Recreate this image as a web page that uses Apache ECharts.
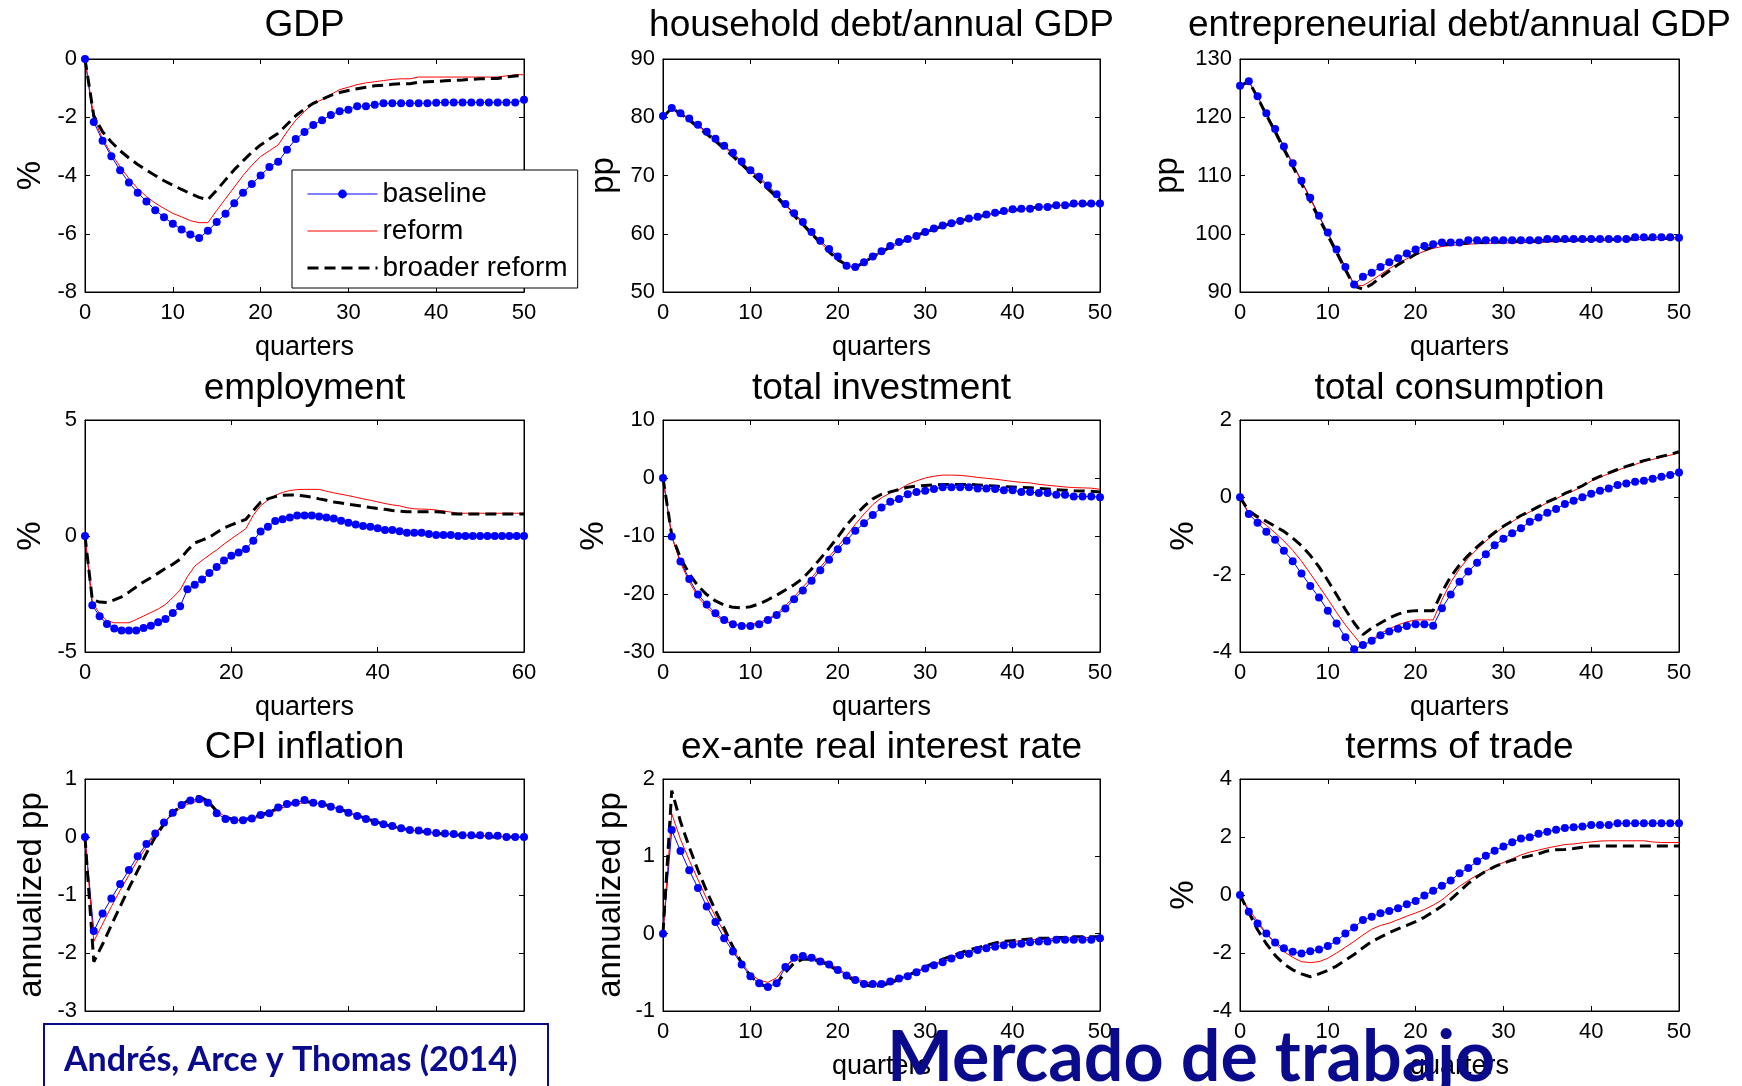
<!DOCTYPE html>
<html>
<head>
<meta charset="utf-8">
<script src="https://cdn.jsdelivr.net/npm/echarts@6/dist/echarts.min.js"></script>
<style>
html,body{margin:0;padding:0;background:#fff;}
#chart{width:1742px;height:1086px;}
</style>
</head>
<body>
<div id="chart"></div>
<script>
// ---------------- DATA ----------------
const seriesNames = ['baseline', 'reform', 'broader reform'];
const panelTitles = ['GDP', 'household debt/annual GDP', 'entrepreneurial debt/annual GDP',
  'employment', 'total investment', 'total consumption',
  'CPI inflation', 'ex-ante real interest rate', 'terms of trade'];
const yAxisNames = ['%', 'pp', 'pp', '%', '%', '%', 'annualized pp', 'annualized pp', '%'];
const xAxisName = 'quarters';

const gdpBase = [0,-2.16,-2.81,-3.34,-3.82,-4.24,-4.59,-4.89,-5.19,-5.43,-5.66,-5.85,-6.03,-6.15,-5.90,-5.60,-5.31,-4.95,-4.59,-4.29,-4.00,-3.71,-3.53,-3.12,-2.75,-2.51,-2.27,-2.10,-1.92,-1.79,-1.74,-1.62,-1.62,-1.57,-1.52,-1.52,-1.52,-1.52,-1.52,-1.52,-1.50,-1.49,-1.49,-1.49,-1.49,-1.49,-1.49,-1.49,-1.49,-1.49,-1.40];
const gdpReform = [0,-2.0,-2.75,-3.25,-3.7,-4.1,-4.45,-4.72,-4.95,-5.13,-5.3,-5.42,-5.55,-5.62,-5.62,-5.2,-4.8,-4.4,-4.0,-3.65,-3.35,-3.15,-2.95,-2.5,-2.1,-1.8,-1.52,-1.4,-1.22,-1.05,-0.97,-0.88,-0.82,-0.78,-0.74,-0.7,-0.68,-0.68,-0.62,-0.62,-0.62,-0.62,-0.62,-0.62,-0.62,-0.62,-0.62,-0.62,-0.58,-0.54,-0.54];
const gdpBroad = [0,-1.95,-2.5,-2.85,-3.15,-3.4,-3.62,-3.82,-4.0,-4.18,-4.33,-4.48,-4.62,-4.75,-4.83,-4.5,-4.15,-3.8,-3.5,-3.2,-2.95,-2.75,-2.55,-2.25,-1.95,-1.72,-1.52,-1.38,-1.25,-1.15,-1.08,-1.02,-0.97,-0.92,-0.9,-0.87,-0.85,-0.85,-0.8,-0.78,-0.77,-0.75,-0.73,-0.72,-0.7,-0.68,-0.67,-0.67,-0.62,-0.58,-0.57];

const hhBase = [80.2,81.6,80.7,79.8,78.7,77.5,76.3,75.1,73.9,72.4,70.9,69.8,68.3,66.8,65.1,63.5,62.0,60.3,58.8,57.4,56.1,54.5,54.3,55.1,56.1,57.0,57.9,58.6,59.1,59.6,60.3,60.9,61.4,61.8,62.2,62.6,62.9,63.3,63.6,63.9,64.2,64.3,64.3,64.6,64.6,64.9,64.9,65.2,65.2,65.2,65.2];
const hhReform = [80,81.5,80.6,79.6,78.5,77.3,76.1,74.9,73.6,72.2,70.8,69.5,68.0,66.5,64.9,63.3,61.7,60.1,58.5,57.0,55.5,54.6,54.0,55.0,55.9,56.8,57.6,58.3,59.0,59.6,60.2,60.7,61.2,61.7,62.1,62.5,62.8,63.1,63.4,63.7,64.0,64.2,64.4,64.6,64.7,64.8,64.9,65.0,65.1,65.1,65.1];
const hhBroad = [80,81.6,80.6,79.5,78.3,77.1,75.9,74.6,73.3,71.9,70.5,69.1,67.7,66.3,64.7,63.1,61.6,60.0,58.4,56.9,55.5,54.7,54.2,55.1,56.0,56.9,57.7,58.4,59.1,59.7,60.3,60.8,61.3,61.8,62.2,62.6,62.9,63.2,63.5,63.8,64.0,64.2,64.4,64.6,64.7,64.8,64.9,65.0,65.1,65.1,65.2];

const enBase = [125.4,126.2,123.6,120.7,118.0,115.0,112.1,109.1,106.2,103.1,100.2,97.3,94.3,91.3,92.6,93.3,94.3,95.1,95.8,96.6,97.3,97.9,98.2,98.5,98.5,98.5,98.9,98.9,98.9,98.9,98.9,98.9,98.9,98.9,98.9,99.1,99.1,99.1,99.1,99.1,99.1,99.1,99.1,99.1,99.1,99.4,99.4,99.4,99.4,99.4,99.3];
const enReform = [125.4,126.1,123.5,120.6,117.8,114.9,111.9,109.0,106.0,103.0,100.0,97.1,94.1,91.2,91.1,92.0,93.0,94.0,94.9,95.7,96.4,97.0,97.5,97.8,98.0,98.1,98.2,98.3,98.3,98.4,98.4,98.4,98.5,98.5,98.5,98.6,98.6,98.7,98.7,98.8,98.8,98.8,98.9,98.9,98.9,99.0,99.0,99.0,99.1,99.1,99.1];
const enBroad = [125.3,126.2,123.4,120.4,117.5,114.5,111.6,108.6,105.6,102.6,99.7,96.8,93.8,91.0,90.5,91.3,92.5,93.6,94.7,95.6,96.5,97.2,97.8,98.1,98.2,98.3,98.4,98.5,98.5,98.6,98.6,98.7,98.7,98.7,98.8,98.8,98.9,98.9,98.9,99.0,99.0,99.0,99.0,99.1,99.1,99.1,99.1,99.2,99.2,99.2,99.2];

const emBase = [0,-2.99,-3.46,-3.79,-3.99,-4.07,-4.07,-4.07,-3.97,-3.87,-3.72,-3.58,-3.32,-3.03,-2.3,-2.1,-1.88,-1.6,-1.34,-1.06,-0.85,-0.71,-0.56,-0.2,0.19,0.4,0.65,0.72,0.80,0.88,0.88,0.88,0.84,0.80,0.75,0.66,0.57,0.50,0.43,0.40,0.33,0.26,0.26,0.2,0.14,0.14,0.14,0.09,0.04,0.04,0.04,0,0,0,0,0,0,0,0,0,0];
const emReform = [0,-2.85,-3.35,-3.65,-3.74,-3.74,-3.74,-3.6,-3.45,-3.3,-3.15,-2.95,-2.65,-2.33,-1.75,-1.3,-1.05,-0.82,-0.6,-0.35,-0.12,0.1,0.32,0.9,1.3,1.55,1.75,1.88,1.96,2.0,2.01,2.01,2.01,1.93,1.86,1.8,1.74,1.67,1.6,1.54,1.47,1.4,1.34,1.3,1.22,1.17,1.16,1.15,1.12,1.08,1.03,0.98,0.98,0.98,0.98,0.98,0.98,0.98,0.98,0.98,0.98];
const emBroad = [0,-2.75,-2.85,-2.87,-2.75,-2.62,-2.42,-2.2,-1.98,-1.8,-1.6,-1.4,-1.22,-1.0,-0.62,-0.3,-0.18,-0.05,0.15,0.35,0.48,0.6,0.72,1.1,1.45,1.6,1.7,1.76,1.77,1.76,1.72,1.67,1.6,1.54,1.47,1.42,1.37,1.33,1.28,1.23,1.19,1.15,1.1,1.07,1.05,1.05,1.05,1.05,1.05,1.02,0.96,0.95,0.95,0.95,0.95,0.95,0.95,0.95,0.95,0.95,0.95];

const invBase = [0,-10.1,-14.4,-17.4,-20.1,-21.8,-23.3,-24.5,-25.2,-25.5,-25.5,-25.2,-24.5,-23.6,-22.5,-20.9,-19.4,-17.7,-15.9,-14.1,-12.3,-10.8,-9.1,-7.8,-6.4,-5.1,-4.1,-3.6,-2.8,-2.4,-2.2,-1.9,-1.6,-1.6,-1.6,-1.6,-1.8,-1.8,-1.9,-2.1,-2.1,-2.4,-2.4,-2.6,-2.6,-2.9,-2.9,-3.2,-3.2,-3.2,-3.3];
const invReform = [0,-10.0,-14.6,-17.9,-20.5,-22.3,-23.7,-24.7,-25.2,-25.4,-25.3,-24.9,-24.3,-23.4,-22.0,-20.5,-18.8,-17.2,-15.4,-13.6,-11.8,-10.0,-8.0,-6.2,-4.6,-3.4,-2.6,-2.0,-1.1,-0.5,0.0,0.3,0.5,0.5,0.45,0.3,0.1,-0.05,-0.2,-0.4,-0.6,-0.75,-0.85,-1.1,-1.25,-1.4,-1.55,-1.65,-1.7,-1.75,-1.95];
const invBroad = [0,-9.8,-13.8,-16.5,-18.6,-20.1,-21.2,-21.9,-22.3,-22.4,-22.2,-21.7,-21.0,-20.2,-19.3,-18.4,-17.3,-15.7,-13.9,-12.1,-10.2,-8.1,-6.4,-4.9,-3.6,-2.8,-2.4,-2.0,-1.6,-1.4,-1.3,-1.2,-1.1,-1.1,-1.1,-1.1,-1.2,-1.3,-1.4,-1.5,-1.55,-1.6,-1.7,-1.8,-1.9,-2.0,-2.1,-2.2,-2.25,-2.3,-2.4];

const coBase = [0,-0.43,-0.66,-0.89,-1.10,-1.38,-1.65,-1.97,-2.29,-2.59,-2.93,-3.26,-3.62,-3.93,-3.82,-3.71,-3.57,-3.47,-3.40,-3.33,-3.28,-3.28,-3.32,-2.87,-2.51,-2.18,-1.92,-1.69,-1.47,-1.24,-1.07,-0.93,-0.80,-0.63,-0.52,-0.40,-0.30,-0.17,-0.09,0.0,0.09,0.17,0.23,0.32,0.36,0.40,0.43,0.48,0.53,0.58,0.64];
const coReform = [0,-0.4,-0.55,-0.72,-0.92,-1.13,-1.37,-1.65,-1.97,-2.3,-2.63,-2.98,-3.3,-3.58,-3.86,-3.68,-3.52,-3.4,-3.3,-3.22,-3.17,-3.17,-3.17,-2.65,-2.2,-1.85,-1.57,-1.34,-1.13,-0.94,-0.77,-0.63,-0.49,-0.38,-0.26,-0.14,-0.04,0.08,0.17,0.28,0.42,0.52,0.61,0.7,0.78,0.85,0.93,0.98,1.04,1.09,1.15];
const coBroad = [0,-0.35,-0.5,-0.62,-0.75,-0.88,-1.05,-1.25,-1.5,-1.8,-2.15,-2.52,-2.9,-3.25,-3.55,-3.38,-3.25,-3.12,-3.02,-2.95,-2.93,-2.93,-2.93,-2.45,-2.05,-1.75,-1.5,-1.28,-1.09,-0.91,-0.75,-0.61,-0.47,-0.36,-0.24,-0.12,-0.02,0.1,0.19,0.3,0.44,0.54,0.63,0.72,0.8,0.87,0.95,1.0,1.06,1.11,1.18];

const cpiBase = [0,-1.62,-1.32,-1.06,-0.81,-0.57,-0.33,-0.12,0.06,0.25,0.42,0.55,0.63,0.65,0.59,0.41,0.31,0.29,0.29,0.32,0.38,0.41,0.51,0.57,0.59,0.64,0.59,0.57,0.52,0.48,0.42,0.36,0.31,0.26,0.22,0.19,0.15,0.12,0.11,0.09,0.07,0.06,0.05,0.03,0.03,0.03,0.02,0.02,0,0,0];
const cpiReform = [0,-1.8,-1.5,-1.2,-0.92,-0.66,-0.4,-0.17,0.05,0.24,0.4,0.51,0.59,0.62,0.59,0.45,0.35,0.29,0.28,0.3,0.35,0.4,0.47,0.53,0.57,0.59,0.59,0.57,0.53,0.48,0.43,0.37,0.32,0.27,0.22,0.18,0.15,0.12,0.1,0.08,0.06,0.05,0.04,0.03,0.02,0.02,0.01,0.01,0.0,0.0,0.0];
const cpiBroad = [0,-2.15,-1.85,-1.52,-1.2,-0.88,-0.58,-0.28,0.0,0.22,0.42,0.55,0.66,0.7,0.62,0.45,0.34,0.3,0.3,0.33,0.38,0.43,0.5,0.56,0.6,0.61,0.6,0.57,0.53,0.48,0.43,0.37,0.32,0.27,0.22,0.18,0.15,0.12,0.1,0.08,0.06,0.05,0.04,0.03,0.02,0.01,0.0,0.0,0.0,0.0,0.0];

const rrBase = [0,1.34,1.07,0.82,0.59,0.35,0.15,-0.06,-0.23,-0.40,-0.55,-0.64,-0.69,-0.64,-0.43,-0.31,-0.29,-0.31,-0.36,-0.40,-0.47,-0.54,-0.60,-0.65,-0.65,-0.65,-0.62,-0.58,-0.55,-0.50,-0.45,-0.41,-0.37,-0.32,-0.28,-0.26,-0.21,-0.19,-0.17,-0.15,-0.14,-0.13,-0.11,-0.10,-0.10,-0.08,-0.08,-0.08,-0.08,-0.08,-0.06];
const rrReform = [0,1.55,1.22,0.95,0.7,0.45,0.22,0.02,-0.2,-0.38,-0.52,-0.6,-0.63,-0.57,-0.42,-0.34,-0.3,-0.3,-0.33,-0.38,-0.45,-0.52,-0.58,-0.62,-0.64,-0.64,-0.61,-0.57,-0.53,-0.48,-0.44,-0.39,-0.35,-0.3,-0.26,-0.23,-0.19,-0.16,-0.13,-0.11,-0.1,-0.09,-0.08,-0.07,-0.07,-0.06,-0.06,-0.05,-0.05,-0.05,-0.05];
const rrBroad = [0,1.85,1.45,1.12,0.82,0.55,0.3,0.07,-0.17,-0.38,-0.55,-0.65,-0.69,-0.65,-0.5,-0.38,-0.33,-0.33,-0.36,-0.41,-0.48,-0.55,-0.61,-0.66,-0.68,-0.67,-0.64,-0.59,-0.54,-0.49,-0.43,-0.38,-0.33,-0.29,-0.25,-0.21,-0.18,-0.15,-0.12,-0.1,-0.09,-0.08,-0.07,-0.06,-0.06,-0.05,-0.05,-0.04,-0.04,-0.04,-0.04];

const totBase = [0,-0.58,-0.98,-1.33,-1.64,-1.84,-1.96,-2.02,-1.94,-1.88,-1.76,-1.58,-1.33,-1.12,-0.86,-0.75,-0.63,-0.55,-0.46,-0.32,-0.21,-0.02,0.15,0.32,0.50,0.75,0.93,1.16,1.35,1.53,1.67,1.82,1.95,1.99,2.11,2.18,2.25,2.31,2.34,2.36,2.41,2.41,2.41,2.47,2.47,2.47,2.47,2.47,2.47,2.47,2.47];
const totReform = [0,-0.5,-0.9,-1.32,-1.68,-1.95,-2.15,-2.3,-2.33,-2.3,-2.18,-2.0,-1.8,-1.6,-1.38,-1.18,-1.05,-0.97,-0.85,-0.73,-0.62,-0.5,-0.35,-0.17,0.08,0.3,0.5,0.68,0.83,0.98,1.12,1.25,1.38,1.48,1.55,1.62,1.68,1.74,1.76,1.8,1.83,1.86,1.87,1.87,1.87,1.87,1.87,1.83,1.81,1.81,1.81];
const totBroad = [0,-0.6,-1.2,-1.68,-2.08,-2.38,-2.58,-2.72,-2.82,-2.72,-2.6,-2.45,-2.25,-2.05,-1.82,-1.61,-1.45,-1.3,-1.17,-1.05,-0.92,-0.77,-0.58,-0.38,-0.15,0.12,0.4,0.63,0.82,0.98,1.1,1.2,1.28,1.35,1.42,1.52,1.56,1.57,1.6,1.65,1.69,1.69,1.69,1.69,1.69,1.69,1.69,1.69,1.69,1.69,1.69];

// axis ranges / tick steps per panel
const yRanges = [[-8,0,2],[50,90,10],[90,130,10],[-5,5,5],[-30,10,10],[-4,2,2],[-3,1,1],[-1,2,1],[-4,4,2]];
const xRanges = [[0,50,10],[0,50,10],[0,50,10],[0,60,20],[0,50,10],[0,50,10],[0,50,10],[0,50,10],[0,50,10]];

const panelSeries = [
  [gdpBase, gdpReform, gdpBroad], [hhBase, hhReform, hhBroad], [enBase, enReform, enBroad],
  [emBase, emReform, emBroad], [invBase, invReform, invBroad], [coBase, coReform, coBroad],
  [cpiBase, cpiReform, cpiBroad], [rrBase, rrReform, rrBroad], [totBase, totReform, totBroad]
];

const citationText = 'Andrés, Arce y Thomas (2014)';
const bannerText = 'Mercado de trabajo';

// ---------------- LAYOUT ----------------
const FONT = '"Liberation Sans", Arial, sans-serif';
const NAVY = '#0a0a8c';
const colLeft = [85, 663, 1240];
const colWidth = [439, 437, 439];
const rowTop = [59, 420, 779];
const rowHeight = [233, 232, 232];
const titleTop = [7, 370, 729];
const yNameGap = [38, 43, 56, 38, 53, 40, 37, 36, 40];
const DASH = [11, 6];

const grid = [], xAxis = [], yAxis = [], title = [], series = [];
const axisCommon = {
  axisLine: { onZero: false, lineStyle: { color: '#000', width: 1 } },
  axisTick: { inside: true, length: 5, lineStyle: { color: '#000', width: 1 } },
  splitLine: { show: false }
};

for (let i = 0; i < 9; i++) {
  const r = Math.floor(i / 3), c = i % 3;
  grid.push({ left: colLeft[c], top: rowTop[r], width: colWidth[c], height: rowHeight[r],
    show: true, borderColor: '#000', borderWidth: 1, backgroundColor: 'transparent' });
  title.push({ text: panelTitles[i], left: colLeft[c] + colWidth[c] / 2, top: titleTop[r],
    textAlign: 'center', padding: 0,
    textStyle: { fontFamily: FONT, fontSize: 37, fontWeight: 'normal', color: '#000' } });
  const [x0, x1, xi] = xRanges[i];
  const [y0, y1, yi] = yRanges[i];
  xAxis.push(Object.assign({ gridIndex: i, type: 'value', min: x0, max: x1, interval: xi, position: 'bottom',
    axisLabel: { color: '#000', fontSize: 22, fontFamily: FONT, margin: 10 },
    name: xAxisName, nameLocation: 'middle', nameGap: 42,
    nameTextStyle: { color: '#000', fontSize: 27, fontFamily: FONT } }, axisCommon));
  xAxis.push(Object.assign({ gridIndex: i, type: 'value', min: x0, max: x1, interval: xi, position: 'top',
    axisLabel: { show: false } }, axisCommon));
  yAxis.push(Object.assign({ gridIndex: i, type: 'value', min: y0, max: y1, interval: yi, position: 'left',
    axisLabel: { color: '#000', fontSize: 22, fontFamily: FONT, margin: 8 },
    name: yAxisNames[i], nameLocation: 'middle', nameGap: yNameGap[i],
    nameTextStyle: { color: '#000', fontSize: 33, fontFamily: FONT } }, axisCommon));
  yAxis.push(Object.assign({ gridIndex: i, type: 'value', min: y0, max: y1, interval: yi, position: 'right',
    axisLabel: { show: false } }, axisCommon));

  const [b, rf, br] = panelSeries[i];
  series.push({ name: seriesNames[0], type: 'line', xAxisIndex: 2 * i, yAxisIndex: 2 * i,
    data: b.map((v, q) => [q, v]), symbol: 'circle', symbolSize: 8, showAllSymbol: true,
    itemStyle: { color: '#0000ff' }, lineStyle: { color: '#0000ff', width: 1 }, silent: true });
  series.push({ name: seriesNames[1], type: 'line', xAxisIndex: 2 * i, yAxisIndex: 2 * i,
    data: rf.map((v, q) => [q, v]), symbol: 'none',
    itemStyle: { color: '#ff0000' }, lineStyle: { color: '#ff0000', width: 1 }, silent: true });
  series.push({ name: seriesNames[2], type: 'line', xAxisIndex: 2 * i, yAxisIndex: 2 * i,
    data: br.map((v, q) => [q, v]), symbol: 'none',
    itemStyle: { color: '#000' }, lineStyle: { color: '#000', width: 3, type: DASH }, silent: true });
}

const chart = echarts.init(document.getElementById('chart'), null, { renderer: 'canvas' });
chart.setOption({
  backgroundColor: '#fff',
  animation: false,
  title, grid, xAxis, yAxis, series,
  legend: {
    orient: 'vertical', left: 292, top: 170, padding: [10, 10, 6, 14], itemGap: 9,
    itemWidth: 70, itemHeight: 11, selectedMode: false,
    backgroundColor: '#fff', borderColor: '#000', borderWidth: 1, z: 10,
    textStyle: { fontSize: 28, color: '#000', fontFamily: FONT, lineHeight: 28 },
    data: [
      { name: seriesNames[0], lineStyle: { width: 1, color: '#0000ff' } },
      { name: seriesNames[1], itemStyle: { opacity: 0 }, lineStyle: { width: 1, color: '#ff0000' } },
      { name: seriesNames[2], itemStyle: { opacity: 0 }, lineStyle: { width: 3, color: '#000', type: DASH } }
    ]
  },
  graphic: [
    { type: 'rect', z: 100, shape: { x: 44, y: 1024, width: 504, height: 80 },
      style: { fill: '#fff', stroke: NAVY, lineWidth: 2 } },
    { type: 'text', z: 101, style: { x: 64, y: 1060, text: citationText, fill: NAVY,
      font: 'bold 34px Lato, "Open Sans", sans-serif', textVerticalAlign: 'middle', verticalAlign: 'middle' } },
    { type: 'text', z: 101, style: { x: 887, y: 1058, text: bannerText, fill: NAVY,
      font: 'bold 70px Lato, "Open Sans", sans-serif', textVerticalAlign: 'middle', verticalAlign: 'middle' } }
  ]
});
</script>
</body>
</html>
